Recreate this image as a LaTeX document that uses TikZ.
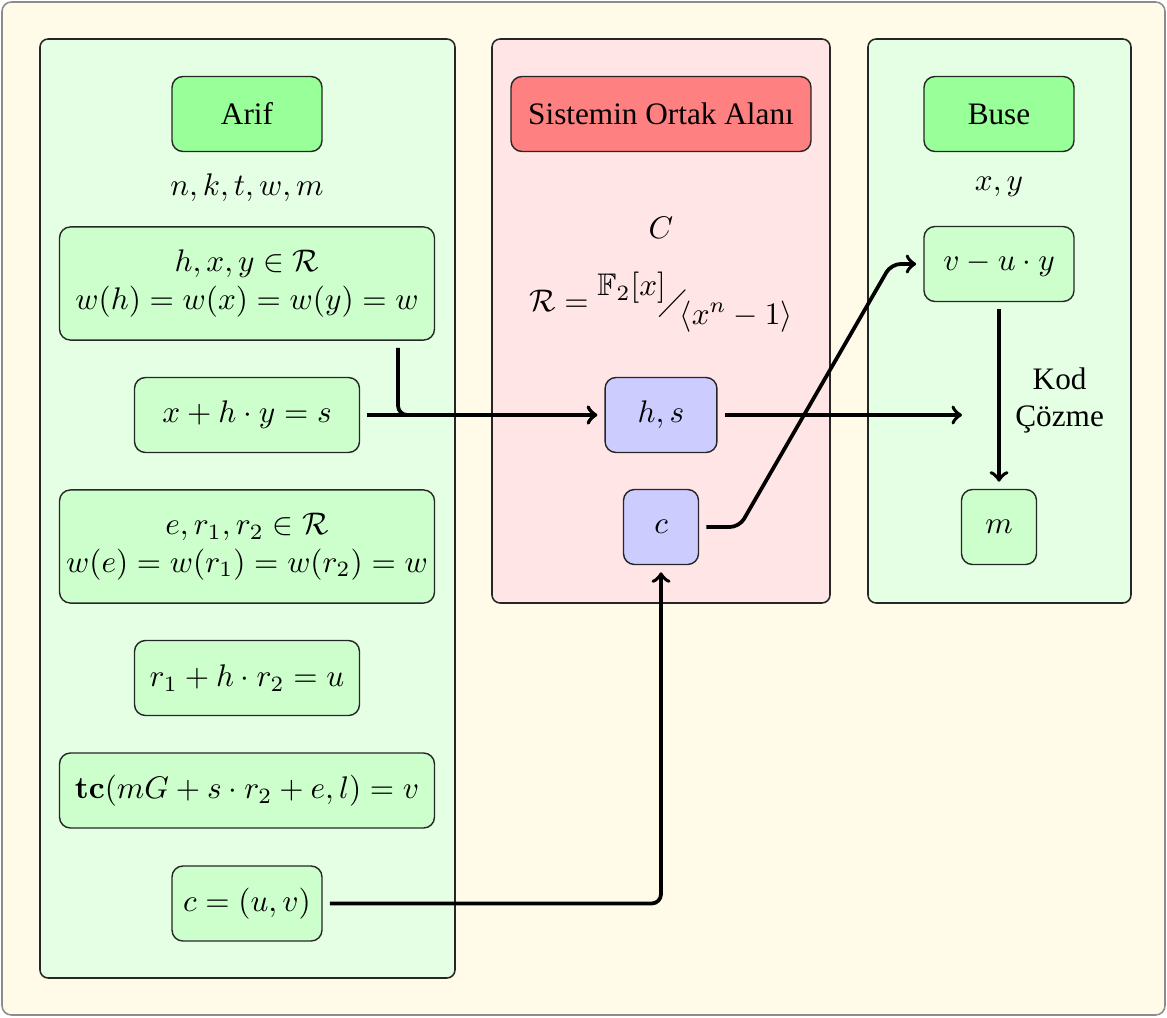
\documentclass[tikz,border=0pt]{standalone}
\usepackage{amsmath,amssymb}
\usepackage[no-math]{fontspec}
\setmainfont{Liberation Serif}
\usetikzlibrary{calc}
\definecolor{bgyellow}{RGB}{255,251,232}
\tikzset{
  panel/.style={draw=black!85, line width=0.5pt, rounded corners=2.6pt},
  box/.style={draw=black!85, line width=0.45pt, rounded corners=3.5pt, inner sep=0pt, outer sep=2.5pt, align=center, fill=green!20},
  hdr/.style={box, fill=green!40, minimum width=48pt, minimum height=24pt},
  pub/.style={box, fill=blue!20},
  conn/.style={->, line width=1.2pt, rounded corners=3pt},
  plain/.style={inner sep=0pt, align=center}
}
\begin{document}
\begin{tikzpicture}[x=0.32pt, y=-0.32pt]
\path[use as bounding box] (0,0) rectangle (1167,1017);
\draw[fill=bgyellow, draw=black!45, line width=0.5pt, rounded corners=3pt] (2,2) rectangle (1165,1015);
% panels
\draw[panel, fill=green!10] (40,39) rectangle (455,978);
\draw[panel, fill=red!10] (492,39) rectangle (830,603);
\draw[panel, fill=green!10] (868,39) rectangle (1131,603);
% left column
\node[hdr] (arif) at (247,114) {Arif};
\node[plain] (params) at (247,188) {$n,k,t,w,m$};
\node[box, minimum width=120pt, minimum height=36.2pt] (b1) at (247,283.5) {$h,x,y\in\mathcal{R}$\\$w(h)=w(x)=w(y)=w$};
\node[box, minimum width=72pt, minimum height=24pt] (b2) at (247,415) {$x+h\cdot y=s$};
\node[box, minimum width=120pt, minimum height=36.2pt] (b3) at (247,546.5) {$e,r_1,r_2\in\mathcal{R}$\\$w(e)=w(r_1)=w(r_2)=w$};
\node[box, minimum width=72pt, minimum height=24pt] (b4) at (247,678) {$r_1+h\cdot r_2=u$};
\node[box, minimum width=120pt, minimum height=24pt] (b5) at (247,790.5) {$\mathbf{tc}(mG+s\cdot r_2+e,l)=v$};
\node[box, minimum width=48pt, minimum height=24pt] (b6) at (247,903.5) {$c=(u,v)$};
% middle column
\node[box, fill=red!50, minimum width=96pt, minimum height=24pt] (ortak) at (661,114) {Sistemin Ortak Alanı};
\node[plain] (cc) at (661,228) {$C$};
\node[plain] (ring) at (661,302) {$\mathcal{R}=\raisebox{1.1ex}{$\mathbb{F}_2[x]$}\mkern-4mu\diagup\mkern-4mu\raisebox{-0.9ex}{$\langle x^n-1\rangle$}$};
\node[pub, minimum width=35.8pt, minimum height=24pt] (hs) at (661,415) {$h,s$};
\node[pub, minimum width=24pt, minimum height=24pt] (c) at (661,527) {$c$};
% right column
\node[hdr] (buse) at (999,114) {Buse};
\node[plain] (xy) at (999,187) {$x,y$};
\node[box, minimum width=48pt, minimum height=24pt] (vuy) at (999,264) {$v-u\cdot y$};
\node[box, minimum width=24pt, minimum height=24pt] (m) at (999,527) {$m$};
\coordinate (dec) at (962,415);
% connectors
\draw[conn] ($(b1.south)+(151,0)$) |- (hs.west);
\draw[conn] (b2.east) -- (hs.west);
\draw[conn] (hs.east) -- (dec);
\draw[conn] (c.east) -- ++(33,0) -- ($(vuy.west)+(-25,0)$) -- (vuy.west);
\draw[conn] (b6.east) -| (c.south);
\draw[conn] (vuy.south) -- node[right=1.3pt, yshift=-1.6pt, align=center] {Kod\\Çözme} (m.north);
\end{tikzpicture}
\end{document}
